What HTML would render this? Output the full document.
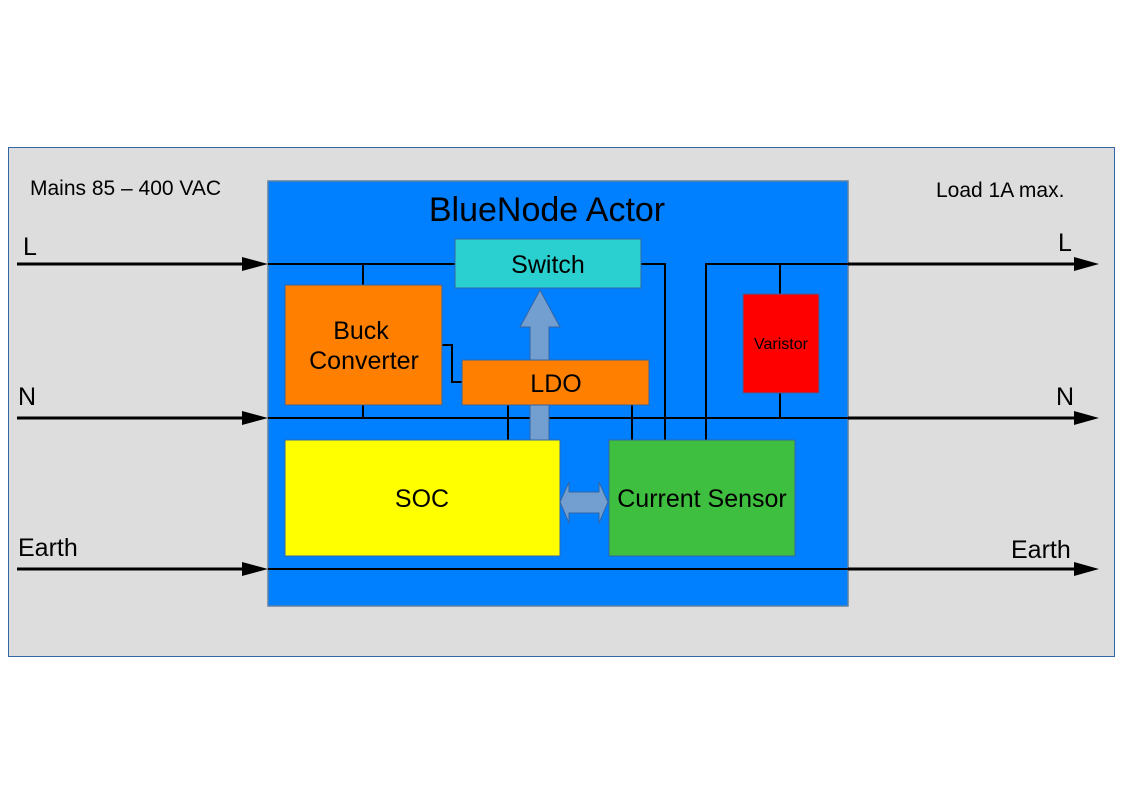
<!DOCTYPE html>
<html><head><meta charset="utf-8"><style>
html,body{margin:0;padding:0;background:#fff;width:1123px;height:794px;overflow:hidden}
svg{display:block}
text{font-family:"Liberation Sans",sans-serif;fill:#000}
</style></head><body>
<svg width="1123" height="794" viewBox="0 0 1123 794" xmlns="http://www.w3.org/2000/svg">
<rect x="8.5" y="147.5" width="1106" height="509" fill="#dddddd" stroke="#3465a4" stroke-width="1"/>
<rect x="268" y="181" width="580" height="425" fill="#007fff" stroke="#6080a0" stroke-width="1.5"/>
<text x="547" y="221" font-size="34" text-anchor="middle">BlueNode Actor</text>
<text x="30" y="195" font-size="21">Mains 85 – 400 VAC</text>
<text x="936" y="197" font-size="21">Load 1A max.</text>
<text x="23" y="255" font-size="25">L</text>
<text x="18" y="405" font-size="25">N</text>
<text x="18" y="556" font-size="25">Earth</text>
<text x="1058" y="251" font-size="25">L</text>
<text x="1056" y="405" font-size="25">N</text>
<text x="1011" y="558" font-size="25">Earth</text>
<g stroke="#000" stroke-width="3" fill="none">
<line x1="17" y1="264" x2="245" y2="264"/>
<line x1="17" y1="418" x2="245" y2="418"/>
<line x1="17" y1="569" x2="245" y2="569"/>
<line x1="848" y1="264" x2="1077" y2="264"/>
<line x1="848" y1="418" x2="1077" y2="418"/>
<line x1="848" y1="569" x2="1077" y2="569"/>
</g>
<g fill="#000">
<polygon points="242,257 268,264 242,271"/>
<polygon points="242,411 268,418 242,425"/>
<polygon points="242,562 268,569 242,576"/>
<polygon points="1074,257 1099,264 1074,271"/>
<polygon points="1074,411 1099,418 1074,425"/>
<polygon points="1074,562 1099,569 1074,576"/>
</g>
<g stroke="#000" stroke-width="2" fill="none">
<line x1="268" y1="264" x2="455" y2="264"/>
<polyline points="641,264 665,264 665,440"/>
<polyline points="706,440 706,264 848,264"/>
<line x1="268" y1="418" x2="848" y2="418"/>
<line x1="268" y1="569" x2="848" y2="569"/>
<line x1="363" y1="264" x2="363" y2="285"/>
<line x1="363" y1="405" x2="363" y2="418"/>
<polyline points="442,345 452,345 452,382 462,382"/>
<line x1="508" y1="405" x2="508" y2="440"/>
<line x1="632" y1="405" x2="632" y2="440"/>
<line x1="780" y1="264" x2="780" y2="294"/>
<line x1="780" y1="393" x2="780" y2="418"/>
</g>
<rect x="455" y="239" width="186" height="49" fill="#2acfcf" stroke="#3465a4" stroke-width="1"/>
<text x="548" y="273" font-size="25" text-anchor="middle">Switch</text>
<rect x="285" y="285" width="157" height="120" fill="#ff8000" stroke="#3465a4" stroke-width="1"/>
<text x="361" y="339" font-size="25" text-anchor="middle">Buck</text>
<text x="364" y="369" font-size="25" text-anchor="middle">Converter</text>
<polygon points="540,290 560,327 549,327 549,440 530,440 530,327 520,327" fill="#729fcf" stroke="#3465a4" stroke-width="1"/>
<rect x="462" y="360" width="187" height="45" fill="#ff8000" stroke="#3465a4" stroke-width="1"/>
<text x="556" y="392" font-size="25" text-anchor="middle">LDO</text>
<rect x="743" y="294" width="76" height="99" fill="#ff0000" stroke="#3465a4" stroke-width="1"/>
<text x="781" y="349" font-size="16" text-anchor="middle">Varistor</text>
<rect x="285" y="440" width="275" height="116" fill="#ffff00" stroke="#3465a4" stroke-width="1"/>
<text x="422" y="507" font-size="25" text-anchor="middle">SOC</text>
<rect x="609" y="440" width="186" height="116" fill="#3fbf3f" stroke="#3465a4" stroke-width="1"/>
<text x="702" y="507" font-size="25" text-anchor="middle">Current Sensor</text>
<polygon points="560,502 569,482 569,492 599,492 599,482 608,502 599,523 599,513 569,513 569,523" fill="#729fcf" stroke="#3465a4" stroke-width="1"/>
</svg>
</body></html>
